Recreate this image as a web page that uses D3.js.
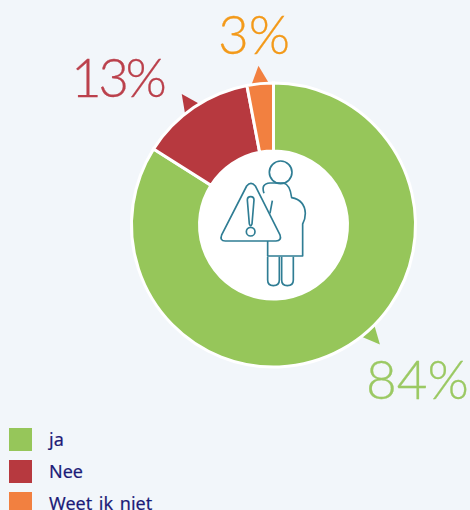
<!DOCTYPE html>
<html>
<head>
<meta charset="utf-8">
<script src="https://cdn.jsdelivr.net/npm/d3@7"></script>
<style>
html, body { margin: 0; padding: 0; background: #f2f6fa; overflow: hidden; }
svg { display: block; }
</style>
</head>
<body>
<script>
var categories = ["ja", "Nee", "Weet ik niet"];
var values = [84, 13, 3];
var labels = ["84%", "13%", "3%"];
var colors = ["#96c65a", "#b7393f", "#f28040"];
var labelColors = ["#9bc963", "#bb414c", "#f39a1a"];

var width = 470, height = 510;
var cx = 273.5, cy = 225;

var canvas = d3.select("body").append("svg")
    .attr("width", width).attr("height", height);

var pie = d3.pie().sort(null)(values);
var arc = d3.arc().innerRadius(74).outerRadius(142);

var chart = canvas.append("g").attr("transform", "translate(" + cx + "," + cy + ")");

// little pointers next to the slices
var pointerAngle = [138.3, 325, 354.6];
var rad = function(a) { return a * Math.PI / 180; };
chart.selectAll("path.pointer").data(pointerAngle).enter()
    .append("path")
    .attr("class", "pointer")
    .attr("fill", function(d, i) { return colors[i]; })
    .attr("d", function(d) {
        var base = d3.pointRadial;
        return "M" + base(rad(d - 4.2), 139) + "L" + base(rad(d), 160) + "L" + base(rad(d + 4.2), 139) + "Z";
    });

chart.selectAll("path.slice").data(pie).enter()
    .append("path")
    .attr("class", "slice")
    .attr("d", arc)
    .attr("fill", function(d, i) { return colors[i]; })
    .attr("stroke", "white")
    .attr("stroke-width", 3);

chart.append("circle").attr("r", 74.5).attr("fill", "white");

// percentage labels, the 1 in 13% is narrower in the original
var labelPos = [[366, 399], [71, 97], [218, 54]];
var labelSpacing = [0, -3.5, 0];
canvas.selectAll("text.pct").data(labels).enter()
    .append("text")
    .attr("class", "pct")
    .attr("x", function(d, i) { return labelPos[i][0]; })
    .attr("y", function(d, i) { return labelPos[i][1]; })
    .attr("fill", function(d, i) { return labelColors[i]; })
    .attr("stroke", function(d, i) { return labelColors[i]; })
    .attr("stroke-width", 0.3)
    .style("font-family", "Lato")
    .style("font-weight", 300)
    .style("font-size", "53px")
    .style("letter-spacing", function(d, i) { return labelSpacing[i] + "px"; })
    .text(function(d) { return d; });

// icon, woman + warning triangle
var icon = canvas.append("g")
    .attr("transform", "translate(190,150) scale(0.3333)")
    .attr("fill", "none")
    .attr("stroke", "#2f7d94")
    .attr("stroke-width", 5)
    .attr("stroke-linejoin", "round");

icon.append("circle").attr("cx", 272).attr("cy", 67).attr("r", 34);
icon.append("path").attr("d", "M222,130 C215,110 222,100 240,99 L280,99 C295,102 302,118 305,143 C330,148 345,165 346,190 C346,205 342,215 338,222 L338,318 L233,318 L233,272");
icon.append("path").attr("d", "M247,152 L240,190");
icon.append("path").attr("d", "M233,320 L233,390 Q233,407 250,407 Q268,407 268,390 L268,320");
icon.append("path").attr("d", "M275,320 L275,390 Q275,407 292,407 Q310,407 310,390 L310,320");
icon.append("path").attr("fill", "white")
    .attr("d", "M170,108 Q183,92 196,108 L270,255 Q276,272 258,273 L106,273 Q88,272 95,255 Z");
icon.append("path").attr("d", "M172,150 Q172,140 182,140 Q192,140 192,150 L186,222 Q182,232 178,222 Z");
icon.append("circle").attr("cx", 182).attr("cy", 245).attr("r", 13);

// legend
var legend = canvas.selectAll("g.legend").data(categories).enter()
    .append("g")
    .attr("class", "legend")
    .attr("transform", function(d, i) { return "translate(9," + (428 + i * 32) + ")"; });

legend.append("rect")
    .attr("width", 23).attr("height", 23)
    .attr("fill", function(d, i) { return colors[i]; });

legend.append("text")
    .attr("x", 40).attr("y", 18)
    .attr("fill", "#1c1c78")
    .attr("stroke", "#1c1c78")
    .attr("stroke-width", 0.2)
    .style("font-family", "'Noto Sans'")
    .style("font-size", "18px")
    .style("word-spacing", "2px")
    .text(function(d) { return d; });
</script>
</body>
</html>
